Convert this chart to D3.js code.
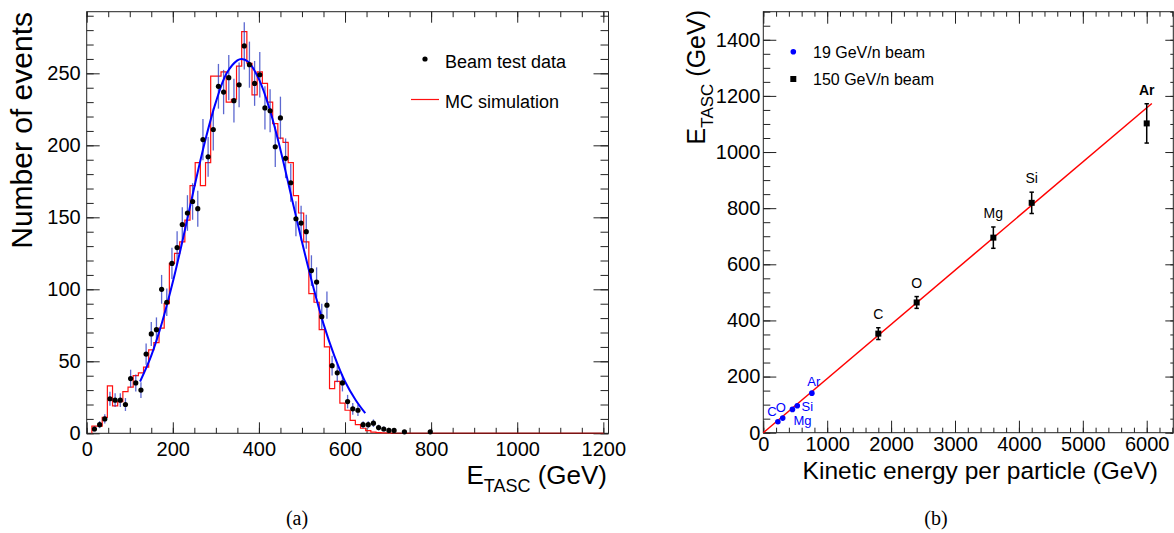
<!DOCTYPE html>
<html><head><meta charset="utf-8">
<script src="https://cdn.jsdelivr.net/npm/d3@7"></script>
<style>
html,body{margin:0;padding:0;background:#fff;}
svg{display:block;}
text{font-family:"Liberation Sans",Arial,Helvetica,sans-serif;}
text.serif{font-family:"Liberation Serif","DejaVu Serif",serif;}
</style></head><body>
<svg id="c" width="1174" height="533"></svg>
<script>
// ---------------- Panel (a) data ----------------
const binCenters = [18,30,42,54,66,78,90,102,114,126,
  138,150,162,174,186,198,210,222,234,246,
  258,270,282,294,306,318,330,342,354,366,
  378,390,402,414,426,438,450,462,474,486,
  498,510,522,534,546,558,570,582,594,606,
  618,630,642,654,666,678,690,702,714,726,
  738,750,762,774,786,798];
const binWidth = 12;
const dataCounts = [3,6,10,24,23,23,20,38,35,30,
  55,69,72,100,91,118,129,145,153,161,
  156,204,192,211,241,237,247,231,242,269,
  256,243,249,226,224,199,219,191,174,149,
  146,140,113,105,81,89,47,42,35,22,
  17,16,6,6,7,4,3,2,2,0,
  1,0,0,0,0,1];
const mcCounts = [5,5,11,33,19,22,29,32,40,42,
  46,58,63,73,90,118,125,133,148,172,
  188,172,188,248,248,251,230,232,255,279,
  257,235,251,243,230,215,205,202,188,165,
  153,133,97,91,72,60,31,36,21,16,
  9,6,3.5,1.8,0.8,0.5,0.3,0.2,0,0,
  0,0,0,0,0,0];
const histEnd = 1200;
// Gaussian fit curve
const fitE = [124,150,175,200,225,250,275,300,325,350,360,375,400,425,450,475,500,525,550,575,600,625,647];
const fitN = [36,54,77,105,137,171,203,230,250,259,260,258,246,225,197,165,133,103,76,54,36,23,14];
const aXTicks = [0,200,400,600,800,1000,1200];
const aYTicks = [0,50,100,150,200,250];

// ---------------- Panel (b) data ----------------
const elements = ["C","O","Mg","Si","Ar"];
const k19 = [228,304,456,532,760];
const e19 = [39,52,83,96,141];
const k150 = [1800,2400,3600,4200,6000];
const e150 = [353,464,695,819,1102];
const err150 = [21,21,38,38,70];
const linK = [0,6080];
const linE = [0,1173];
const bXTicks = [0,1000,2000,3000,4000,5000,6000];
const bYTicks = [0,200,400,600,800,1000,1200,1400];

const fmt = d3.format("d");
const svg = d3.select("#c");

function styleAxis(g, size, labelled){
  g.select(".domain").remove();
  g.selectAll("line").attr("stroke","#222").attr("stroke-width",1);
  if(labelled) g.selectAll("text").attr("font-size",size).attr("fill","#000");
  else g.selectAll("text").remove();
}

// ================= PANEL A =================
const xA = d3.scaleLinear().domain([0,1212]).range([86.7,608.5]);
const yA = d3.scaleLinear().domain([0,292.8]).range([433.3,11.7]);
const gA = svg.append("g");

const stepPts = [[binCenters[0]-binWidth/2, 0]];
binCenters.forEach((c,i)=>stepPts.push([c-binWidth/2, mcCounts[i]]));
stepPts.push([histEnd, 0]);
const stepLine = d3.line().x(d=>xA(d[0])).y(d=>yA(d[1])).curve(d3.curveStepAfter);

const axA = [
  {ax:d3.axisBottom(xA).tickValues(aXTicks).tickFormat(fmt).tickSize(-11).tickPadding(9), t:`translate(0,${yA(0)})`, lab:true},
  {ax:d3.axisBottom(xA).ticks(24).tickSize(-5.5), t:`translate(0,${yA(0)})`},
  {ax:d3.axisTop(xA).tickValues(aXTicks).tickSize(-11), t:`translate(0,${yA.range()[1]})`},
  {ax:d3.axisTop(xA).ticks(24).tickSize(-5.5), t:`translate(0,${yA.range()[1]})`},
  {ax:d3.axisLeft(yA).tickValues(aYTicks).tickFormat(fmt).tickSize(-13).tickPadding(6), t:`translate(${xA(0)},0)`, lab:true},
  {ax:d3.axisLeft(yA).ticks(29).tickSize(-7), t:`translate(${xA(0)},0)`},
  {ax:d3.axisRight(yA).tickValues(aYTicks).tickSize(-15), t:`translate(${xA.range()[1]},0)`},
  {ax:d3.axisRight(yA).ticks(29).tickSize(-8), t:`translate(${xA.range()[1]},0)`}
];
axA.forEach(a=>{ const g=gA.append("g").attr("transform",a.t).call(a.ax.tickSizeOuter(0)); styleAxis(g,20,a.lab); });

gA.append("rect").attr("x",xA(0)).attr("y",yA.range()[1])
  .attr("width",xA.range()[1]-xA(0)).attr("height",yA(0)-yA.range()[1])
  .attr("fill","none").attr("stroke","#222").attr("stroke-width",1);

gA.append("path").attr("d",stepLine(stepPts)).attr("fill","none")
  .attr("stroke","#ff1010").attr("stroke-width",1.2);
let lastNZ = 0; mcCounts.forEach((v,i)=>{ if(v>0) lastNZ=i; });
gA.append("line").attr("x1",xA(binCenters[lastNZ]+binWidth/2)).attr("x2",xA(histEnd))
  .attr("y1",yA(0)).attr("y2",yA(0)).attr("stroke","#7a1414").attr("stroke-width",1.3);

const pts = binCenters.map((c,i)=>({c, n:dataCounts[i]})).filter(d=>d.n>0);
gA.append("g").selectAll("line").data(pts).join("line")
  .attr("x1",d=>xA(d.c)).attr("x2",d=>xA(d.c))
  .attr("y1",d=>yA(d.n-Math.sqrt(d.n))).attr("y2",d=>yA(d.n+Math.sqrt(d.n)))
  .attr("stroke","#2535c0").attr("stroke-opacity",0.75).attr("stroke-width",1.3);

const fitLine = d3.line().x((d,i)=>xA(fitE[i])).y((d,i)=>yA(fitN[i])).curve(d3.curveCatmullRom);
gA.append("path").attr("d",fitLine(fitE)).attr("fill","none").attr("stroke","#0000ff").attr("stroke-width",2);

gA.append("g").selectAll("circle").data(pts).join("circle")
  .attr("cx",d=>xA(d.c)).attr("cy",d=>yA(d.n)).attr("r",2.6).attr("fill","#000");

// legend A
gA.append("circle").attr("cx",425).attr("cy",59).attr("r",2.6).attr("fill","#000");
gA.append("text").attr("x",445).attr("y",68).attr("font-size",18).text("Beam test data");
gA.append("line").attr("x1",411).attr("x2",439).attr("y1",99.5).attr("y2",99.5).attr("stroke","#ff1010").attr("stroke-width",1.2);
gA.append("text").attr("x",445).attr("y",108).attr("font-size",18).text("MC simulation");

// axis titles A
gA.append("text").attr("transform","translate(32,12) rotate(-90)").attr("text-anchor","end")
  .attr("font-size",30).text("Number of events");
const tA = gA.append("text").attr("x",607).attr("y",484).attr("text-anchor","end").attr("font-size",26);
tA.append("tspan").text("E");
tA.append("tspan").attr("font-size",18).attr("dy",8).text("TASC");
tA.append("tspan").attr("dy",-8).text(" (GeV)");

// ================= PANEL B =================
const xB = d3.scaleLinear().domain([0,6416]).range([763.3,1173.3]);
const yB = d3.scaleLinear().domain([0,1500]).range([432.7,11.7]);
const gB = svg.append("g");

const axB = [
  {ax:d3.axisBottom(xB).tickValues(bXTicks).tickFormat(fmt).tickSize(-12).tickPadding(4.6), t:`translate(0,${yB(0)})`, lab:true},
  {ax:d3.axisBottom(xB).ticks(32).tickSize(-5), t:`translate(0,${yB(0)})`},
  {ax:d3.axisTop(xB).tickValues(bXTicks).tickSize(-12), t:`translate(0,${yB.range()[1]})`},
  {ax:d3.axisTop(xB).ticks(32).tickSize(-5), t:`translate(0,${yB.range()[1]})`},
  {ax:d3.axisLeft(yB).tickValues(bYTicks).tickFormat(fmt).tickSize(-13).tickPadding(3), t:`translate(${xB(0)},0)`, lab:true},
  {ax:d3.axisLeft(yB).ticks(30).tickSize(-7), t:`translate(${xB(0)},0)`},
  {ax:d3.axisRight(yB).tickValues(bYTicks).tickSize(-8), t:`translate(${xB.range()[1]},0)`},
  {ax:d3.axisRight(yB).ticks(30).tickSize(-3), t:`translate(${xB.range()[1]},0)`}
];
axB.forEach(a=>{ const g=gB.append("g").attr("transform",a.t).call(a.ax.tickSizeOuter(0)); styleAxis(g,20,a.lab); });

gB.append("rect").attr("x",xB(0)).attr("y",yB.range()[1])
  .attr("width",xB.range()[1]-xB(0)).attr("height",yB(0)-yB.range()[1])
  .attr("fill","none").attr("stroke","#222").attr("stroke-width",1);

gB.append("line").attr("x1",xB(linK[0])).attr("y1",yB(linE[0])).attr("x2",xB(linK[1])).attr("y2",yB(linE[1]))
  .attr("stroke","#ff0000").attr("stroke-width",1.5);

const d150 = elements.map((el,i)=>({el,k:k150[i],e:e150[i],er:err150[i]}));
const eb = gB.append("g").attr("stroke","#000").attr("stroke-width",1.5);
d150.forEach(d=>{
  eb.append("line").attr("x1",xB(d.k)).attr("x2",xB(d.k)).attr("y1",yB(d.e-d.er)).attr("y2",yB(d.e+d.er));
  [d.e-d.er,d.e+d.er].forEach(v=>eb.append("line").attr("x1",xB(d.k)-2.2).attr("x2",xB(d.k)+2.2).attr("y1",yB(v)).attr("y2",yB(v)));
});
gB.append("g").selectAll("rect").data(d150).join("rect")
  .attr("x",d=>xB(d.k)-3).attr("y",d=>yB(d.e)-3).attr("width",6).attr("height",6).attr("fill","#000");
gB.append("g").selectAll("text").data(d150).join("text")
  .attr("x",d=>xB(d.k)).attr("y",d=>yB(d.e+d.er)-9)
  .attr("text-anchor","middle").attr("font-size",14)
  .attr("font-weight",d=>d.el==="Ar"?"bold":"normal").text(d=>d.el);

const d19 = elements.map((el,i)=>({el,k:k19[i],e:e19[i]}));
gB.append("g").selectAll("circle").data(d19).join("circle")
  .attr("cx",d=>xB(d.k)).attr("cy",d=>yB(d.e)).attr("r",2.8).attr("fill","#0000ff");
const off19 = {C:[-6,-10],O:[-2,-11],Mg:[10,11],Si:[10,1],Ar:[2,-12]};
gB.append("g").selectAll("text").data(d19).join("text")
  .attr("x",d=>xB(d.k)+off19[d.el][0]).attr("y",d=>yB(d.e)+off19[d.el][1]+4.6)
  .attr("text-anchor","middle").attr("font-size",13).attr("fill","#0000ff").text(d=>d.el);

// legend B
gB.append("circle").attr("cx",793.3).attr("cy",51.7).attr("r",2.8).attr("fill","#0000ff");
gB.append("text").attr("x",813).attr("y",57.5).attr("font-size",16).text("19 GeV/n beam");
gB.append("rect").attr("x",790.3).attr("y",76).attr("width",6).attr("height",6).attr("fill","#000");
gB.append("text").attr("x",813).attr("y",85).attr("font-size",16).text("150 GeV/n beam");

// axis titles B
gB.append("text").attr("x",1158).attr("y",479).attr("text-anchor","end").attr("font-size",24.5)
  .text("Kinetic energy per particle (GeV)");
const tB = gB.append("text").attr("transform","translate(705,10) rotate(-90)").attr("text-anchor","end").attr("font-size",25);
tB.append("tspan").text("E");
tB.append("tspan").attr("font-size",17).attr("dy",8).text("TASC");
tB.append("tspan").attr("dy",-8).text(" (GeV)");

// captions
svg.append("text").attr("class","serif").attr("x",297).attr("y",525).attr("text-anchor","middle")
  .attr("font-size",20).text("(a)");
svg.append("text").attr("class","serif").attr("x",936).attr("y",525).attr("text-anchor","middle")
  .attr("font-size",20).text("(b)");
</script>
</body></html>
